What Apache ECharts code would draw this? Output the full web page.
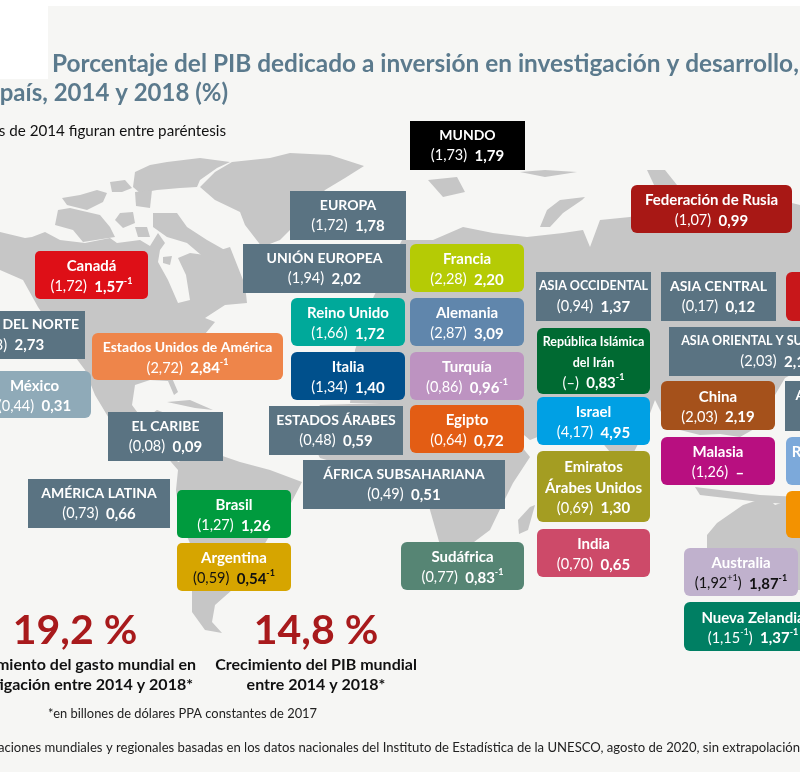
<!DOCTYPE html>
<html>
<head>
<meta charset="utf-8">
<title>Porcentaje del PIB dedicado a I+D</title>
<script src="https://cdn.jsdelivr.net/npm/echarts@6/dist/echarts.min.js"></script>
<style>
html,body{margin:0;padding:0;background:#fff}
#chart{width:800px;height:772px}
</style>
</head>
<body>
<div id="chart"></div>
<script>
// datos
var cardNames = ['MUNDO','EUROPA','UNIÓN EUROPEA','Canadá','AMÉRICA DEL NORTE','Estados Unidos de América','México','EL CARIBE','AMÉRICA LATINA','Brasil','Argentina','Reino Unido','Italia','ESTADOS ÁRABES','ÁFRICA SUBSAHARIANA','Francia','Alemania','Turquía','Egipto','Sudáfrica','India','ASIA OCCIDENTAL','República Islámica\ndel Irán','Israel','Emiratos\nÁrabes Unidos','Federación de Rusia','ASIA CENTRAL','ASIA ORIENTAL Y SUDORIENTAL','China','Malasia','ASIA MERIDIONAL','Rep. de Corea','Australia','Nueva Zelandia','',''];
var values2014 = [1.73,1.72,1.94,1.72,2.43,2.72,0.44,0.08,0.73,1.27,0.59,1.66,1.34,0.48,0.49,2.28,2.87,0.86,0.64,0.77,0.70,0.94,null,4.17,0.69,1.07,0.17,2.03,2.03,1.26,0.63,4.08,1.92,1.15];
var values2018 = [1.79,1.78,2.02,1.57,2.73,2.84,0.31,0.09,0.66,1.26,0.54,1.72,1.40,0.59,0.51,2.20,3.09,0.96,0.72,0.83,0.65,1.37,0.83,4.95,1.30,0.99,0.12,2.15,2.19,null,0.65,4.53,1.87,1.37];
var yearMark2014 = {Australia:'+1','Nueva Zelandia':'-1'};
var yearMark2018 = {'Canadá':'-1','Estados Unidos de América':'-1','Argentina':'-1','Turquía':'-1','Sudáfrica':'-1','República Islámica\ndel Irán':'-1',Australia:'-1','Nueva Zelandia':'-1'};
var statValues = ['19,2 %','14,8 %'];

// cajas: x0, y0, x1, y1, color, radio (mismo orden que cardNames)
var cardBoxes = [
    [410,121,525,170,'#000000',0],[290,191,406,240,'#5a7382',0],[243,244,406,293,'#5a7382',0],
    [35,251,148,299,'#de0f17',5],[-70,311,85,359,'#5a7382',0],[92,333,283,380,'#ee854a',6],
    [-22,371,91,418,'#8faab8',6],[108,412,223,461,'#5a7382',0],[28,479,170,528,'#5a7382',0],
    [177,490,291,538,'#009b3e',5],[177,543,291,591,'#d6a500',5],[291,298,405,346,'#00a99a',6],
    [291,352,405,400,'#00508c',6],[269,406,403,455,'#5a7382',0],[303,460,505,509,'#5a7382',0],
    [410,244,524,292,'#b5cb05',6],[410,298,524,346,'#6086ac',6],[410,352,524,400,'#bd93c1',6],
    [410,405,524,453,'#e35d14',6],[401,542,524,590,'#568574',6],[537,529,650,577,'#cd4a69',6],
    [536,272,651,321,'#5a7382',0],[537,328,650,394,'#006a32',6],[537,397,650,445,'#00a0e4',6],
    [537,451,650,522,'#a49d22',6],[631,185,792,233,'#a81815',6],[661,272,776,321,'#5a7382',0],
    [669,327,885,376,'#5a7382',0],[661,381,775,430,'#a5511b',6],[661,437,775,485,'#b80f80',6],
    [785,381,929,431,'#5a7382',0],[786,437,890,485,'#7ca9da',6],[684,548,798,596,'#c0b1cd',6],
    [684,602,822,651,'#007f63',6],[786,272,900,321,'#c8171a',6],[786,491,900,538,'#f39200',6]
];
var darkValueCards = ['Argentina','Australia'];
var narrowNames = ['ASIA OCCIDENTAL','República Islámica\ndel Irán','ASIA ORIENTAL Y SUDORIENTAL','Estados Unidos de América'];

// siluetas del mapa de fondo
var landShapes = [
    [[0,232],[25,238],[32,237],[45,232],[60,240],[85,243],[110,238],[117,243],[140,240],[150,246],[158,233],[165,243],[160,250],[158,262],[168,280],[178,303],[190,300],[186,275],[178,258],[190,253],[205,255],[230,247],[245,285],[247,303],[225,305],[205,318],[215,322],[200,340],[180,362],[172,378],[178,392],[174,395],[168,381],[150,380],[135,385],[132,405],[143,420],[157,410],[165,413],[155,425],[170,450],[178,462],[205,450],[240,462],[270,470],[302,482],[290,505],[270,535],[255,560],[232,590],[215,605],[212,622],[222,633],[205,630],[192,612],[192,585],[195,555],[180,520],[176,490],[178,470],[165,455],[135,438],[110,420],[95,395],[85,370],[70,350],[50,325],[38,307],[23,280],[0,270]],
    [[167,402],[190,400],[213,410],[195,408]],
    [[200,187],[215,172],[232,162],[270,158],[290,153],[330,155],[364,166],[345,178],[325,190],[305,215],[280,240],[262,247],[245,225],[240,212],[215,200]],
    [[135,172],[150,165],[167,162],[200,158],[230,162],[217,168],[200,180],[197,187],[180,188],[157,190],[140,193],[133,187]],
    [[110,182],[125,180],[132,188],[122,192],[112,192]],
    [[62,198],[80,195],[97,190],[107,193],[103,202],[87,210],[67,205]],
    [[58,210],[70,208],[100,215],[110,227],[115,237],[83,242],[73,230],[55,225]],
    [[120,213],[133,212],[135,223],[123,228],[115,220]],
    [[135,192],[152,190],[150,208],[136,206]],
    [[135,227],[147,227],[150,237],[138,237]],
    [[153,213],[177,213],[187,227],[207,240],[230,253],[217,263],[207,260],[187,243],[167,237],[153,227]],
    [[163,257],[172,256],[170,265],[163,263]],
    [[428,180],[457,177],[465,192],[443,197]],
    [[520,172],[545,170],[577,172],[545,177]],
    [[647,170],[665,170],[677,185],[655,187]],
    [[540,227],[547,210],[560,200],[585,197],[582,200],[563,213],[550,227]],
    [[402,240],[433,240],[463,227],[493,233],[527,237],[563,233],[583,230],[590,247],[600,220],[630,217],[700,190],[760,195],[800,205],[800,370],[785,378],[775,395],[770,420],[740,437],[720,434],[700,435],[680,430],[665,420],[655,400],[640,440],[625,470],[600,440],[580,420],[530,440],[500,415],[400,403],[350,403],[355,350],[372,300]],
    [[320,405],[470,400],[500,420],[530,457],[513,483],[503,503],[490,530],[470,545],[440,545],[430,510],[420,475],[400,465],[360,470],[320,458],[305,430]],
    [[530,507],[535,505],[528,530],[519,534],[518,520]],
    [[695,487],[720,490],[760,495],[800,497],[800,505],[760,502],[700,495]],
    [[707,590],[707,535],[717,523],[743,505],[767,497],[775,505],[790,500],[800,510],[800,590]]
];

var titleColor = '#5b7a8d';
var statColor = '#a81a1c';
var fontName = 'Lato';

function fmt(v){
    return v === null ? '–' : v.toFixed(2).replace('.', ',');
}

function valueLine(name, i){
    var prev = '{reg|(' + fmt(values2014[i]);
    if (yearMark2014[name]) prev += '}{regSup|' + yearMark2014[name] + '}{reg|)}';
    else prev += ')}';
    var now = '{val|' + fmt(values2018[i]) + '}';
    if (yearMark2018[name]) now += '{sup|' + yearMark2018[name] + '}';
    return prev + '{reg|  }' + now;
}

function nameSize(name){
    if (narrowNames.indexOf(name) >= 0) return name.charAt(0) === 'E' ? 14 : 12.5;
    return name === name.toUpperCase() ? 14 : 15;
}

function renderCard(params, api){
    var i = api.value(0);
    var box = cardBoxes[i];
    var p0 = api.coord([box[0], box[1]]);
    var p1 = api.coord([box[2], box[3]]);
    var name = cardNames[i];
    var children = [{
        type: 'rect',
        shape: {x:p0[0], y:p0[1], width:p1[0]-p0[0], height:p1[1]-p0[1], r:box[5]},
        style: {fill:box[4]}
    }];
    if (name) {
        var ink = darkValueCards.indexOf(name) >= 0 ? '#111111' : '#ffffff';
        var lines = name.split('\n').map(function(s){ return '{name|' + s + '}'; });
        lines.push(valueLine(name, i));
        children.push({
            type: 'text',
            style: {
                text: lines.join('\n'),
                x: (p0[0]+p1[0])/2,
                y: (p0[1]+p1[1])/2 + (box[5] ? 1.5 : 0),
                align: 'center',
                verticalAlign: 'middle',
                fontFamily: fontName,
                rich: {
                    name: {fill:'#fff', fontFamily:fontName, fontWeight:'bold', fontSize:nameSize(name), lineHeight:20.5},
                    reg: {fill:ink, fontFamily:fontName, fontSize:14.5, lineHeight:20.5},
                    regSup: {fill:ink, fontFamily:fontName, fontSize:9, lineHeight:20.5, verticalAlign:'top'},
                    val: {fill:ink, fontFamily:fontName, fontWeight:'bold', fontSize:15, lineHeight:20.5},
                    sup: {fill:ink, fontFamily:fontName, fontWeight:'bold', fontSize:9, lineHeight:20.5, verticalAlign:'top'}
                }
            }
        });
    }
    return {type:'group', children:children};
}

function textItem(text, x, y, align, size, weight, color){
    return {
        type: 'text', z: 5,
        style: {text:text, x:x, y:y, align:align, verticalAlign:'middle', fontFamily:fontName, fontSize:size, fontWeight:weight, fill:color}
    };
}

function buildGraphics(){
    var items = [
        {type:'rect', z:0, shape:{x:48,y:6,width:752,height:73}, style:{fill:'#f6f6f4'}},
        {type:'rect', z:0, shape:{x:0,y:79,width:800,height:693}, style:{fill:'#f6f6f4'}}
    ];
    landShapes.forEach(function(pts){
        items.push({type:'polygon', z:1, shape:{points:pts}, style:{fill:'#c6c6c6'}});
    });
    items.push(textItem('Porcentaje del PIB dedicado a inversión en investigación y desarrollo,', 52, 64, 'left', 24.4, 'bold', titleColor));
    items.push(textItem('país, 2014 y 2018 (%)', 228, 93, 'right', 24, 'bold', titleColor));
    items.push(textItem('Los datos de 2014 figuran entre paréntesis', 226, 131, 'right', 15.2, 'normal', '#111'));
    items.push(textItem(statValues[0], 75, 631, 'center', 41, 'bold', statColor));
    items.push(textItem(statValues[1], 316, 631, 'center', 41, 'bold', statColor));
    items.push(textItem('Crecimiento del gasto mundial en', 196, 665, 'right', 16, 'bold', '#111'));
    items.push(textItem('investigación entre 2014 y 2018*', 193, 685, 'right', 16, 'bold', '#111'));
    items.push(textItem('Crecimiento del PIB mundial', 316, 665, 'center', 16, 'bold', '#111'));
    items.push(textItem('entre 2014 y 2018*', 316, 685, 'center', 16, 'bold', '#111'));
    items.push(textItem('*en billones de dólares PPA constantes de 2017', 48, 714, 'left', 12.9, 'normal', '#222'));
    items.push(textItem('Fuente: estimaciones mundiales y regionales basadas en los datos nacionales del Instituto de Estadística de la UNESCO, agosto de 2020, sin extrapolación', 800, 748, 'right', 13.1, 'normal', '#222'));
    return items;
}

function showMap(){
    var chart = echarts.init(document.getElementById('chart'));
    chart.setOption({
        animation: false,
        backgroundColor: '#ffffff',
        grid: {left:0, right:0, top:0, bottom:0},
        xAxis: {type:'value', min:0, max:800, show:false},
        yAxis: {type:'value', min:0, max:772, inverse:true, show:false},
        graphic: {elements: buildGraphics()},
        series: [{
            type: 'custom',
            z: 3,
            clip: false,
            renderItem: renderCard,
            data: cardNames.map(function(n, i){ return [i]; })
        }]
    });
}
showMap();
</script>
</body>
</html>
